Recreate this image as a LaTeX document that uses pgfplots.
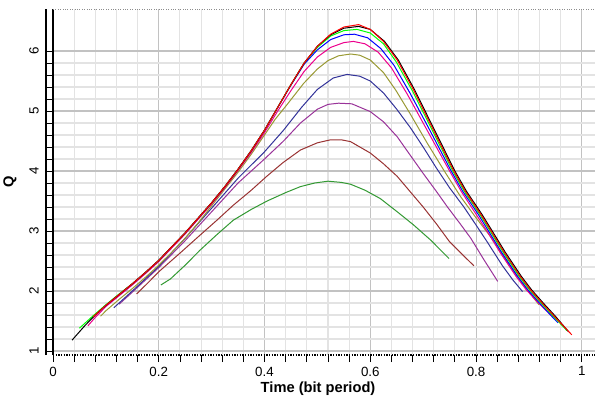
\documentclass[border=0pt]{standalone}
\usepackage{fontspec}
\setmainfont{Liberation Sans}
\usepackage{pgfplots}
\pgfplotsset{compat=1.18}
\definecolor{cOlive}{HTML}{999933}
\definecolor{cNavy}{HTML}{333399}
\definecolor{cPurple}{HTML}{993399}
\definecolor{cBrown}{HTML}{993333}
\definecolor{cDGreen}{HTML}{339933}
\begin{document}
\begin{tikzpicture}
\begin{axis}[
  scale only axis, width=406.5pt, height=259.5pt,
  xmin=0, xmax=1.025, ymin=0.933, ymax=6.7,
  xtick={0,0.2,0.4,0.6,0.8,1}, ytick={1,2,3,4,5,6},
  minor x tick num=4, minor y tick num=4,
  grid=both,
  major grid style={color=black!24, line width=0.8pt},
  minor grid style={color=black!11, line width=0.8pt},
  axis x line*=bottom, axis y line*=left,
  axis line style={-},
  x axis line style={densely dotted, line width=1pt},
  y axis line style={line width=1pt},
  tick align=outside, major tick length=5.25pt, minor tick length=5.25pt,
  every tick/.style={black, line width=0.6pt},
  /pgf/number format/assume math mode=true,
  ticklabel style={font=\fontsize{10}{11}\selectfont},
  xticklabel style={anchor=north, yshift=0pt},
  yticklabel style={xshift=-9pt, rotate=90, anchor=center},
  xlabel={\bfseries Time (bit period)},
  ylabel={\bfseries Q},
  xlabel style={at={(axis description cs:0.489,-0.097)}, anchor=center, font=\fontsize{11}{12}\selectfont},
  ylabel style={at={(axis description cs:-0.0793,0.5)}, anchor=center, font=\fontsize{11}{12}\selectfont},
  clip=true,
  every axis plot/.append style={line width=0.75pt},
]
\draw[black!45, densely dotted, line width=0.8pt] (rel axis cs:0,1) -- (rel axis cs:1,1);
\addplot[cDGreen] coordinates {(0.204,2.10)(0.222,2.20)(0.25,2.43)(0.278,2.68)(0.31,2.94)(0.341,3.18)(0.375,3.36)(0.405,3.50)(0.44,3.64)(0.468,3.74)(0.495,3.80)(0.52,3.83)(0.545,3.81)(0.5625,3.78)(0.59,3.68)(0.619,3.54)(0.651,3.32)(0.682,3.10)(0.714,2.85)(0.749,2.54)};
\addplot[cBrown] coordinates {(0.158,1.95)(0.18,2.14)(0.20,2.32)(0.24,2.63)(0.278,2.93)(0.31,3.18)(0.341,3.43)(0.375,3.68)(0.404,3.91)(0.435,4.14)(0.468,4.35)(0.50,4.47)(0.525,4.52)(0.545,4.52)(0.5625,4.49)(0.60,4.30)(0.625,4.12)(0.651,3.91)(0.675,3.66)(0.70,3.40)(0.725,3.12)(0.75,2.82)(0.775,2.60)(0.796,2.42)};
\addplot[cPurple] coordinates {(0.125,1.78)(0.15,1.98)(0.20,2.39)(0.25,2.84)(0.30,3.32)(0.35,3.80)(0.40,4.20)(0.436,4.50)(0.468,4.80)(0.50,5.03)(0.52,5.11)(0.54,5.13)(0.565,5.12)(0.60,4.99)(0.625,4.82)(0.651,4.57)(0.675,4.27)(0.70,3.96)(0.725,3.66)(0.746,3.40)(0.77,3.12)(0.79,2.88)(0.815,2.52)(0.841,2.16)};
\addplot[cNavy] coordinates {(0.115,1.72)(0.15,2.00)(0.20,2.41)(0.25,2.88)(0.30,3.38)(0.35,3.88)(0.40,4.32)(0.436,4.68)(0.47,5.06)(0.50,5.36)(0.53,5.55)(0.556,5.61)(0.58,5.58)(0.60,5.50)(0.625,5.30)(0.65,5.03)(0.676,4.72)(0.70,4.40)(0.725,4.05)(0.75,3.72)(0.777,3.40)(0.80,3.10)(0.821,2.82)(0.85,2.42)(0.87,2.18)(0.888,1.99)};
\addplot[cOlive] coordinates {(0.09,1.58)(0.10,1.67)(0.125,1.86)(0.15,2.04)(0.175,2.23)(0.20,2.43)(0.225,2.65)(0.25,2.88)(0.275,3.14)(0.30,3.42)(0.325,3.70)(0.35,3.98)(0.375,4.28)(0.40,4.60)(0.42,4.86)(0.442,5.10)(0.474,5.46)(0.50,5.70)(0.52,5.84)(0.54,5.92)(0.563,5.95)(0.58,5.93)(0.60,5.85)(0.625,5.64)(0.648,5.35)(0.675,4.96)(0.708,4.46)(0.74,4.00)(0.771,3.57)(0.80,3.22)(0.828,2.90)(0.85,2.60)(0.872,2.32)(0.895,2.04)(0.919,1.77)};
\addplot[magenta] coordinates {(0.066,1.42)(0.08,1.56)(0.10,1.74)(0.125,1.92)(0.15,2.10)(0.175,2.29)(0.20,2.49)(0.225,2.72)(0.25,2.95)(0.275,3.20)(0.30,3.45)(0.325,3.72)(0.35,4.01)(0.375,4.31)(0.40,4.64)(0.425,5.00)(0.45,5.34)(0.475,5.66)(0.50,5.90)(0.525,6.06)(0.55,6.14)(0.568,6.16)(0.59,6.12)(0.615,5.98)(0.64,5.72)(0.67,5.28)(0.705,4.72)(0.75,4.00)(0.772,3.66)(0.80,3.28)(0.822,2.98)(0.845,2.65)(0.876,2.24)(0.895,2.02)(0.918,1.80)(0.945,1.57)};
\addplot[blue] coordinates {(0.085,1.64)(0.10,1.76)(0.125,1.94)(0.15,2.12)(0.175,2.31)(0.20,2.51)(0.225,2.74)(0.25,2.97)(0.275,3.22)(0.30,3.47)(0.325,3.74)(0.35,4.03)(0.375,4.34)(0.40,4.68)(0.425,5.06)(0.45,5.43)(0.475,5.78)(0.50,6.02)(0.525,6.19)(0.55,6.27)(0.57,6.28)(0.595,6.22)(0.62,6.04)(0.645,5.76)(0.675,5.30)(0.709,4.74)(0.753,4.00)(0.775,3.66)(0.804,3.28)(0.825,2.98)(0.848,2.65)(0.879,2.24)(0.898,2.02)(0.92,1.80)(0.943,1.58)(0.955,1.47)};
\addplot[green] coordinates {(0.05,1.38)(0.075,1.58)(0.10,1.77)(0.125,1.95)(0.15,2.12)(0.175,2.31)(0.20,2.51)(0.225,2.74)(0.25,2.97)(0.275,3.22)(0.30,3.47)(0.325,3.74)(0.35,4.03)(0.375,4.34)(0.40,4.68)(0.425,5.06)(0.45,5.44)(0.475,5.80)(0.50,6.06)(0.525,6.25)(0.55,6.34)(0.575,6.36)(0.60,6.30)(0.625,6.12)(0.649,5.82)(0.68,5.33)(0.712,4.77)(0.756,4.00)(0.778,3.66)(0.807,3.28)(0.828,2.98)(0.851,2.65)(0.882,2.24)(0.901,2.02)(0.923,1.80)(0.946,1.58)(0.972,1.34)};
\addplot[black] coordinates {(0.036,1.18)(0.06,1.42)(0.08,1.60)(0.10,1.76)(0.125,1.94)(0.15,2.12)(0.175,2.31)(0.20,2.51)(0.225,2.74)(0.25,2.97)(0.275,3.22)(0.30,3.47)(0.325,3.74)(0.35,4.03)(0.375,4.34)(0.40,4.68)(0.425,5.06)(0.45,5.44)(0.475,5.80)(0.50,6.08)(0.525,6.27)(0.55,6.38)(0.578,6.41)(0.60,6.36)(0.627,6.16)(0.653,5.85)(0.684,5.35)(0.716,4.78)(0.76,4.00)(0.782,3.66)(0.811,3.28)(0.832,2.98)(0.855,2.65)(0.886,2.24)(0.905,2.02)(0.927,1.80)(0.95,1.58)(0.975,1.32)};
\addplot[red] coordinates {(0.076,1.57)(0.10,1.76)(0.125,1.94)(0.15,2.12)(0.175,2.31)(0.20,2.51)(0.225,2.74)(0.25,2.97)(0.275,3.22)(0.30,3.47)(0.325,3.74)(0.35,4.03)(0.375,4.34)(0.40,4.68)(0.425,5.06)(0.45,5.44)(0.475,5.80)(0.50,6.08)(0.525,6.28)(0.55,6.40)(0.578,6.44)(0.60,6.36)(0.625,6.16)(0.651,5.85)(0.682,5.35)(0.714,4.78)(0.758,4.00)(0.78,3.66)(0.809,3.28)(0.83,2.98)(0.853,2.65)(0.884,2.24)(0.903,2.02)(0.925,1.80)(0.948,1.58)(0.981,1.27)};
\end{axis}
\draw[black, line width=1pt] ([xshift=-5.25pt]current axis.south west) -- ([xshift=-5.25pt]current axis.north west);
\pgfresetboundingbox
\path ([shift={(-39.75pt,-30.75pt)}]current axis.south west) rectangle ([shift={(0pt,6.75pt)}]current axis.north east);
\end{tikzpicture}
\end{document}
